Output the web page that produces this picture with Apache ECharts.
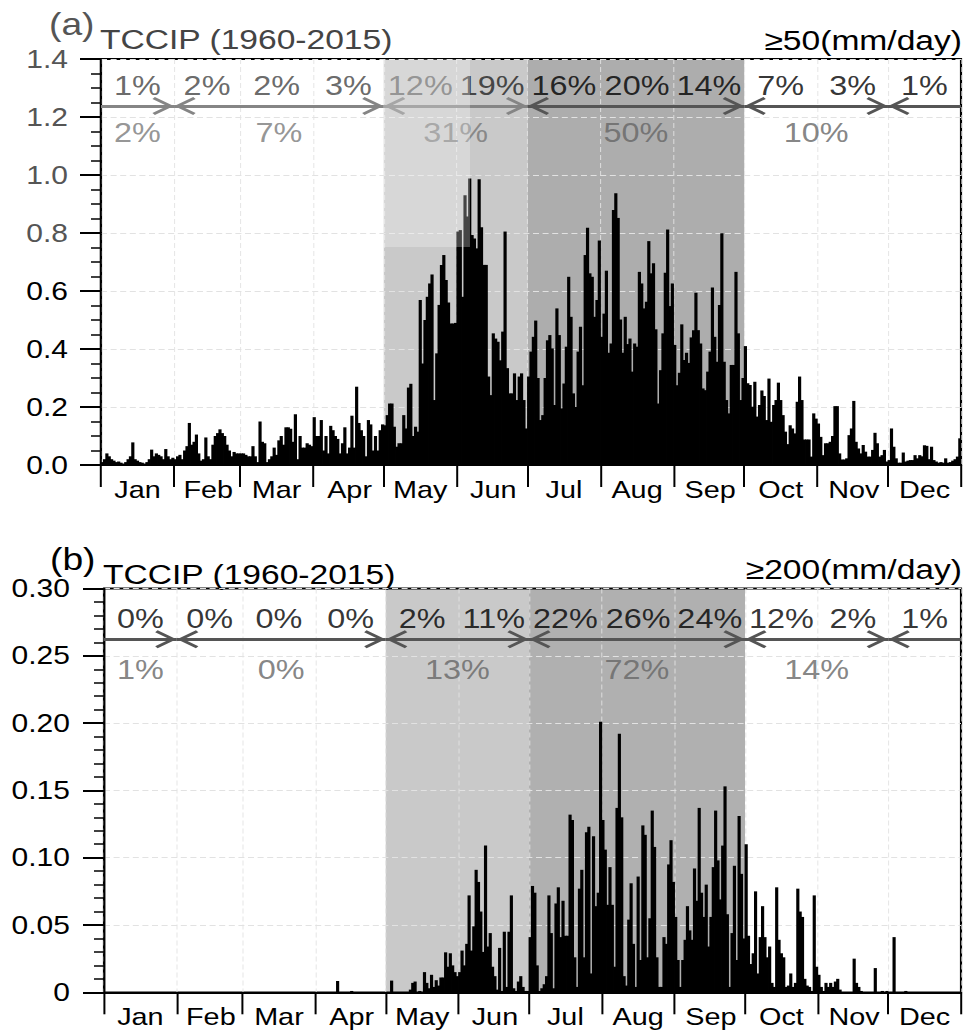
<!DOCTYPE html>
<html><head><meta charset="utf-8">
<script src="https://cdn.jsdelivr.net/npm/echarts@6/dist/echarts.min.js"></script>
<style>
html,body{margin:0;padding:0;background:#fff;overflow:hidden}
#wrap{width:967px;height:1033px;overflow:hidden;position:relative;background:#fff}
#chart{position:absolute;left:0;top:0;height:1033px;transform-origin:0 0}
</style></head>
<body><div id="wrap"><div id="chart"></div></div>
<script>
// ---------------- DATA ----------------
const monthNames = ['Jan','Feb','Mar','Apr','May','Jun','Jul','Aug','Sep','Oct','Nov','Dec'];
const monthDays  = [31,28,31,30,31,30,31,31,30,31,30,31];

// (a) >=50 mm/day, daily frequency (365 days)
const dailyA = [
 // Jan
 0.01,0.02,0.04,0.03,0.02,0.015,0.01,0.012,0.008,0.005,0.01,0.02,0.03,0.078,0.02,0.015,0.01,0.008,0.005,0.01,0.02,0.053,0.03,0.04,0.035,0.03,0.02,0.055,0.03,0.02,0.025,
 // Feb
 0.02,0.03,0.035,0.02,0.05,0.065,0.145,0.07,0.08,0.105,0.04,0.015,0.02,0.095,0.03,0.02,0.07,0.1,0.11,0.123,0.11,0.1,0.07,0.05,0.03,0.045,0.04,0.04,
 // Mar
 0.04,0.04,0.035,0.03,0.03,0.065,0.03,0.01,0.15,0.08,0.075,0.01,0.02,0.03,0.06,0.035,0.085,0.1,0.07,0.13,0.13,0.125,0.08,0.175,0.02,0.1,0.06,0.06,0.075,0.07,0.065,
 // Apr
 0.165,0.1,0.1,0.155,0.05,0.1,0.04,0.135,0.12,0.1,0.09,0.04,0.075,0.13,0.04,0.06,0.17,0.06,0.27,0.145,0.12,0.1,0.03,0.155,0.14,0.05,0.1,0.05,0.12,0.14,
 // May
 0.137,0.172,0.212,0.212,0.132,0.063,0.075,0.075,0.172,0.126,0.267,0.28,0.1,0.132,0.115,0.569,0.35,0.5,0.58,0.626,0.657,0.224,0.385,0.552,0.69,0.724,0.638,0.56,0.488,0.488,0.49,
 // Jun
 0.805,0.81,0.58,0.93,0.857,0.988,0.793,0.781,0.747,0.985,0.82,0.69,0.69,0.305,0.241,0.454,0.436,0.425,0.361,0.46,0.805,0.334,0.247,0.247,0.316,0.224,0.305,0.316,0.224,0.126,
 // Jul
 0.305,0.391,0.442,0.498,0.3,0.155,0.172,0.3,0.43,0.448,0.402,0.207,0.54,0.448,0.195,0.281,0.408,0.649,0.511,0.247,0.2,0.391,0.477,0.275,0.724,0.818,0.661,0.649,0.511,0.569,0.774,
 // Aug
 0.442,0.522,0.67,0.387,0.419,0.879,0.937,0.852,0.502,0.387,0.511,0.417,0.436,0.322,0.419,0.408,0.666,0.626,0.54,0.563,0.772,0.661,0.696,0.468,0.212,0.327,0.454,0.663,0.812,0.548,0.626,
 // Sep
 0.414,0.275,0.318,0.485,0.362,0.387,0.352,0.44,0.465,0.594,0.465,0.419,0.264,0.258,0.322,0.391,0.612,0.442,0.356,0.552,0.799,0.356,0.224,0.178,0.345,0.345,0.666,0.454,0.224,0.3,
 // Oct
 0.41,0.282,0.276,0.201,0.287,0.167,0.207,0.257,0.238,0.155,0.298,0.149,0.207,0.224,0.284,0.224,0.172,0.115,0.072,0.137,0.126,0.109,0.218,0.305,0.224,0.088,0.088,0.088,0.029,0.178,0.16,
 // Nov
 0.143,0.097,0.034,0.075,0.075,0.08,0.1,0.203,0.203,0.04,0.019,0.019,0.023,0.103,0.126,0.221,0.08,0.057,0.04,0.069,0.046,0.029,0.029,0.052,0.111,0.075,0.029,0.034,0.052,0.012,
 // Dec
 0.017,0.126,0.063,0.023,0.008,0.008,0.043,0.012,0.015,0.017,0.017,0.034,0.023,0.034,0.03,0.068,0.066,0.02,0.063,0.017,0.012,0.008,0.01,0.008,0.023,0.008,0.01,0.015,0.02,0.029,0.092
];

// (b) >=200 mm/day, daily frequency (365 days)
const dailyB = [
 // Jan
 0,0,0,0,0,0,0,0,0,0,0,0,0,0,0,0,0,0,0,0,0,0,0,0,0,0,0,0,0,0,0,
 // Feb
 0,0,0,0,0,0,0,0,0,0,0,0,0,0,0,0,0,0,0,0,0,0,0,0,0,0,0,0,
 // Mar
 0,0,0,0,0,0,0,0,0,0,0,0,0,0,0,0,0,0,0,0,0,0,0,0,0,0,0,0,0,0,0,
 // Apr
 0,0,0,0,0,0,0,0,0,0.0084,0,0,0,0,0,0.001,0,0,0,0,0,0,0,0,0,0,0,0,0,0,
 // May
 0,0,0.0087,0,0,0,0,0,0,0,0.002,0.007,0.008,0,0.001,0,0.015,0.007,0.003,0.013,0.004,0.009,0.005,0.011,0.011,0.0297,0.019,0.029,0.02,0.015,0.012,
 // Jun
 0.015,0.031,0.02,0.036,0.072,0.031,0.049,0.091,0.082,0.06,0.03,0.109,0.034,0.044,0.019,0.012,0.002,0.033,0.001,0.045,0.004,0.045,0.072,0.003,0.001,0.008,0.012,0.004,0.001,0.001,
 // Jul
 0.041,0.079,0.074,0.02,0.001,0.003,0.006,0.012,0.072,0.044,0.003,0.066,0.078,0.041,0.068,0.042,0.042,0.132,0.128,0.026,0.004,0.077,0.091,0.026,0.119,0.123,0.014,0.116,0.064,0.074,0.201,
 // Aug
 0.128,0.106,0.065,0.093,0.065,0.019,0.137,0.192,0.13,0.012,0.005,0.054,0.081,0.036,0.004,0.086,0.024,0.124,0.117,0.026,0.055,0.135,0.108,0.026,0.004,0.004,0.041,0.036,0.095,0.113,0.082,
 // Sep
 0.056,0.024,0.004,0.024,0.039,0.064,0.046,0.039,0.092,0.068,0.137,0.074,0.056,0.08,0.034,0.056,0.093,0.135,0.098,0.069,0.109,0.153,0.058,0.004,0.044,0.094,0.024,0.131,0.088,0.04,
 // Oct
 0.11,0.042,0.021,0.029,0.075,0.014,0.041,0.064,0.041,0.026,0.034,0.007,0.004,0.078,0.039,0.029,0.026,0.004,0.005,0.014,0.004,0.007,0.077,0.06,0.056,0.01,0.005,0.004,0.001,0.072,0.019,
 // Nov
 0.013,0.004,0.001,0.007,0.004,0.007,0.004,0.008,0.01,0.002,0,0,0,0,0,0.025,0.007,0.004,0.001,0,0,0,0,0,0.018,0,0,0.001,0,0.001,
 // Dec
 0,0,0.041,0,0,0,0,0.001,0,0,0,0,0,0,0,0,0,0,0,0,0,0,0,0,0,0,0,0,0,0,0
];

const monthPctA  = [1,2,2,3,12,19,16,20,14,7,3,1];
const seasonPctA = [2,7,31,50,10];
const monthPctB  = [0,0,0,0,2,11,22,26,24,12,2,1];
const seasonPctB = [1,0,13,72,14];
// seasons as [first month, last month] (Dec–Jan wraps around the year)
const seasonMonths = [[11,0],[1,3],[4,5],[6,8],[9,10]];

// ---------------- LAYOUT / STYLE ----------------
const SX = 1.2;                       // horizontal stretch of the original figure
const W = 967 / SX;
const FONT = '"Liberation Sans", Arial, Helvetica, sans-serif';
const el = document.getElementById('chart');
el.style.width = W + 'px';
el.style.transform = 'scaleX(' + SX + ')';

const monthStart = [];
{ let s = 0; for (const d of monthDays) { monthStart.push(s); s += d; } }
const NDAY = monthStart[11] + monthDays[11];
const days = [];
monthNames.forEach((m, i) => { for (let d = 1; d <= monthDays[i]; d++) days.push(m + ' ' + d); });
const startSet = new Set(monthStart);
const midSet = new Set(monthStart.map((s, i) => s + Math.floor(monthDays[i] / 2)));
const monthCenter = monthStart.map((s, i) => s + monthDays[i] / 2);
const seasonCenter = seasonMonths.map(([a, b]) => a > b ? monthCenter[b] : (monthStart[a] + monthStart[b] + monthDays[b]) / 2);

const CHEV = 'path://M-0.01,-18L0.01,-18L0,-17.95ZM0,0L9,15.5L7,17.5L0,5.5L-7,17.5L-9,15.5Z';

function panel(idx, cfg) {
  const xCat = {
    gridIndex: idx, type: 'category', data: days, boundaryGap: true,
    axisLine: { lineStyle: { color: '#000', width: 2 } },
    axisTick: { show: true, interval: (i) => startSet.has(i), length: 22, lineStyle: { color: '#000', width: 2 / SX } },
    axisLabel: { interval: (i) => midSet.has(i), formatter: (v) => v.split(' ')[0], fontSize: 24, margin: 13, color: '#000', fontFamily: FONT },
    splitLine: { show: true, interval: (i) => startSet.has(i), lineStyle: { type: [5, 3], color: '#e2e2e2', width: 1 / SX } }
  };
  const xVal = { gridIndex: idx, type: 'value', min: 0, max: NDAY, show: false };
  const y = {
    gridIndex: idx, type: 'value', min: 0, max: cfg.ymax, interval: cfg.yint,
    axisLine: { show: true, lineStyle: { color: '#000', width: 2 / SX } },
    axisTick: { show: true, length: 21 / SX, lineStyle: { color: '#000', width: 2 } },
    minorTick: { show: true, splitNumber: cfg.minor, length: 10 / SX, lineStyle: { color: '#000', width: 1.5 } },
    minorSplitLine: { show: false },
    axisLabel: { margin: cfg.labMargin / SX, fontSize: 25, fontFamily: FONT, color: cfg.ylabColor, formatter: cfg.yfmt },
    splitLine: { show: true, lineStyle: { type: [5, 3], color: '#e2e2e2', width: 1 } }
  };
  const xc = idx * 2, xv = idx * 2 + 1;
  const series = [];
  // seasonal shading
  series.push({
    type: 'line', xAxisIndex: xv, yAxisIndex: idx, data: [], silent: true, symbol: 'none',
    markArea: { silent: true, z: -1, data: [
      [{ xAxis: monthStart[4], itemStyle: { color: cfg.shadeMJ } }, { xAxis: monthStart[6] }],
      [{ xAxis: monthStart[6], itemStyle: { color: cfg.shadeJAS } }, { xAxis: monthStart[9] }]
    ] }
  });
  // daily bars (slightly overlapping so neighbours form a solid histogram)
  series.push({
    type: 'bar', xAxisIndex: xc, yAxisIndex: idx, data: cfg.data, barWidth: '135%', silent: true,
    itemStyle: { color: '#000' }
  });
  // arrows
  const bnd = [0, monthStart[1], monthStart[4], monthStart[6], monthStart[9], monthStart[11], NDAY];
  const arrows = [];
  for (let k = 0; k < 6; k++) {
    arrows.push([
      { coord: [bnd[k], cfg.arrowY], symbol: k === 0 ? 'none' : CHEV, lineStyle: { color: cfg.arrowColor[k], width: 3, type: 'solid' }, itemStyle: { color: cfg.arrowColor[k] } },
      { coord: [bnd[k + 1], cfg.arrowY], symbol: k === 5 ? 'none' : CHEV }
    ]);
  }
  series.push({
    type: 'line', xAxisIndex: xv, yAxisIndex: idx, data: [], silent: true, symbol: 'none',
    markLine: { silent: true, symbolSize: [18, 36], label: { show: false }, animation: false, data: arrows }
  });
  // monthly percentages
  series.push({
    type: 'scatter', xAxisIndex: xv, yAxisIndex: idx, silent: true, symbolSize: 1,
    itemStyle: { color: 'rgba(0,0,0,0)' },
    label: { show: true, position: 'inside', fontSize: 27, fontFamily: FONT },
    data: cfg.month.map((p, i) => ({ value: [monthCenter[i], cfg.monthY], label: { formatter: p + '%', color: cfg.monthColor[i] } }))
  });
  // seasonal percentages
  series.push({
    type: 'scatter', xAxisIndex: xv, yAxisIndex: idx, silent: true, symbolSize: 1,
    itemStyle: { color: 'rgba(0,0,0,0)' },
    label: { show: true, position: 'inside', fontSize: 27, fontFamily: FONT },
    data: cfg.season.map((p, i) => ({ value: [seasonCenter[i], cfg.seasonY], label: { formatter: p + '%', color: cfg.seasonColor[i] } }))
  });
  if (cfg.overlay) {
    series.push({
      type: 'line', xAxisIndex: xv, yAxisIndex: idx, data: [], silent: true, symbol: 'none',
      markArea: { silent: true, z: 20, itemStyle: { color: 'rgba(255,255,255,0.27)' }, data: [cfg.overlay] }
    });
  }
  return { xAxis: [xCat, xVal], yAxis: [y], series };
}

const pA = panel(0, {
  data: dailyA, ymax: 1.4, yint: 0.2, minor: 4, labMargin: 33,
  yfmt: (v) => v.toFixed(1), ylabColor: (v) => (+v >= 0.79 ? '#555' : '#000'),
  shadeMJ: '#c9c9c9', shadeJAS: '#adadad',
  arrowY: 1.238, monthY: 1.31, seasonY: 1.145,
  arrowColor: ['#858585', '#858585', '#858585', '#555', '#555', '#555'],
  month: monthPctA, season: seasonPctA,
  monthColor: ['#444', '#444', '#444', '#444', '#555', '#222', '#000', '#000', '#000', '#000', '#000', '#000'],
  seasonColor: ['#7a7a7a', '#7a7a7a', '#777', '#666', '#666'],
  overlay: [{ xAxis: 120, yAxis: 0.752 }, { xAxis: 156.6, yAxis: 1.4 }]
});
const pB = panel(1, {
  data: dailyB, ymax: 0.3, yint: 0.05, minor: 5, labMargin: 34,
  yfmt: (v) => (v === 0 ? '0' : v.toFixed(2)), ylabColor: '#000',
  shadeMJ: '#c9c9c9', shadeJAS: '#b0b0b0',
  arrowY: 0.2623, monthY: 0.278, seasonY: 0.2395,
  arrowColor: ['#555', '#555', '#555', '#555', '#555', '#555'],
  month: monthPctB, season: seasonPctB,
  monthColor: monthPctB.map(() => '#000'),
  seasonColor: ['#666', '#666', '#666', '#666', '#666']
});

const option = {
  animation: false,
  backgroundColor: '#fff',
  grid: [
    { left: 101 / SX, right: 6 / SX, top: 59, height: 406, show: true, borderColor: '#000', borderWidth: 1.8, containLabel: false },
    { left: 104 / SX, right: 6 / SX, top: 588.5, height: 403.8, show: true, borderColor: '#000', borderWidth: 1.8, containLabel: false }
  ],
  xAxis: [...pA.xAxis, ...pB.xAxis],
  yAxis: [...pA.yAxis, ...pB.yAxis],
  series: [...pA.series, ...pB.series],
  graphic: [
    { type: 'text', x: 49 / SX, y: 24, style: { text: '(a)', font: '31px ' + FONT, fill: '#555', align: 'left', verticalAlign: 'middle' } },
    { type: 'text', x: 100 / SX, y: 39, style: { text: 'TCCIP (1960-2015)', font: '28px ' + FONT, fill: '#444', align: 'left', verticalAlign: 'middle' } },
    { type: 'text', x: 962 / SX, y: 40, style: { text: '≥50(mm/day)', font: '28px ' + FONT, fill: '#000', align: 'right', verticalAlign: 'middle' } },
    { type: 'text', x: 50 / SX, y: 559, style: { text: '(b)', font: '31px ' + FONT, fill: '#000', align: 'left', verticalAlign: 'middle' } },
    { type: 'text', x: 103 / SX, y: 574, style: { text: 'TCCIP (1960-2015)', font: '28px ' + FONT, fill: '#000', align: 'left', verticalAlign: 'middle' } },
    { type: 'text', x: 962 / SX, y: 569, style: { text: '≥200(mm/day)', font: '28px ' + FONT, fill: '#000', align: 'right', verticalAlign: 'middle' } }
  ]
};

const chart = echarts.init(el, null, { renderer: 'svg', width: W, height: 1033 });
chart.setOption(option);
</script>
</body></html>
